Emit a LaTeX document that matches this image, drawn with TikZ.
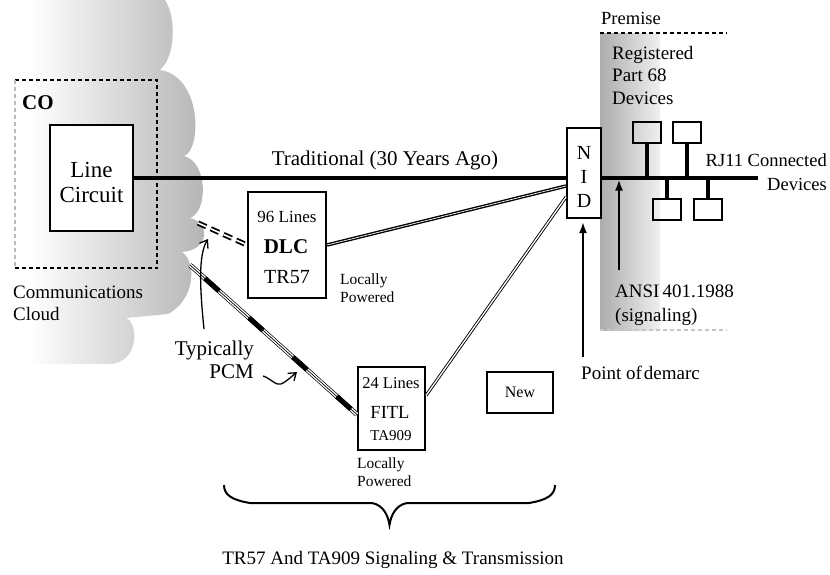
\documentclass[tikz,border=0pt]{standalone}
\usepackage{fontspec}
\setmainfont{Liberation Serif}
\usetikzlibrary{arrows.meta}
\newcommand{\pxfont}[2]{\fontsize{#1}{#2}\selectfont}
\tikzset{
  boxnode/.style={draw, line width=2pt, fill=white, inner sep=0pt},
  devbox/.style={draw, line width=2pt, minimum width=28pt, minimum height=21pt, inner sep=0pt},
  txt/.style={inner sep=0pt},
  wire/.style={line width=4pt},
  codash/.style={line width=1.6pt, dash pattern=on 4pt off 3pt},
  dlclink/.style={line width=1.4pt, double=white, double distance=0.7pt},
  fitllink/.style={line width=0.9pt, double=white, double distance=1.3pt},
  dashpair/.style={line width=1.8pt, double=white, double distance=1.6pt, dash pattern=on 9pt off 5pt},
  tiparrow/.style={line width=2pt, -{Latex[length=11pt,width=8pt]}},
  barbarrow/.style={line width=1.3pt, -{Straight Barb[length=7pt,width=10pt]}}
}

\begin{document}
\begin{tikzpicture}[x=1pt,y=-1pt]
  \useasboundingbox (0,0) rectangle (830,574);
  % communications cloud
  \shade[left color=white, right color=gray!60] (30,-5) -- (160,-5)
    .. controls (176,5) and (178,55) .. (160,70)
    .. controls (202,76) and (202,150) .. (184,156)
    .. controls (208,162) and (208,212) .. (190,218)
    .. controls (210,222) and (210,250) .. (182,252)
    .. controls (197,262) and (195,300) .. (168,314)
    -- (126,318) .. controls (138,322) and (140,360) .. (112,364)
    -- (30,364) -- cycle;
  % premise band
  \shade[left color=gray!65, right color=gray!12] (600,33) rectangle (660,330);
  \coordinate (premtl) at (600,33);
  \coordinate (premtr) at (727,33);
  \coordinate (prembl) at (600,330);
  \coordinate (prembr) at (727,330);
  \draw[line width=1.5pt, dash pattern=on 4pt off 3pt] (premtl) -- (premtr);
  \draw[gray!45, line width=1.2pt, dash pattern=on 4pt off 3pt] (prembl) -- (prembr);

  % CO
  \node[minimum width=142pt, minimum height=188pt, inner sep=0pt] (co) at (86,174) {};
  \draw[codash] (co.south west) -- (co.south east) -- (co.north east) -- (co.north west);
  \draw[codash, gray!55] (co.north west) -- (co.south west);
  \node[txt, anchor=west, font=\bfseries\pxfont{21}{24}] (colabel) at (22,103) {CO};
  \node[txt, anchor=west, align=left, font=\pxfont{19}{22}] (cloudlabel) at (13,303) {Communications\\Cloud};

  % boxes
  \node[boxnode, minimum width=83pt, minimum height=106pt] (lc) at (91.5,177.5) {};
  \node[txt, align=center, font=\pxfont{23}{25}] (lctext) at (91.5,182) {Line\\Circuit};
  \node[boxnode, minimum width=34pt, minimum height=90pt] (nid) at (584,173) {};
  \node[txt, align=center, font=\pxfont{20}{24}] (nidtext) at (584,176.5) {N\\I\\D};
  \node[boxnode, minimum width=78pt, minimum height=106pt] (dlc) at (287,245) {};
  \node[txt, font=\pxfont{17}{20}] (dlclines) at (287,217) {96 Lines};
  \node[txt, font=\bfseries\pxfont{21}{24}] (dlcname) at (286,247) {DLC};
  \node[txt, font=\pxfont{20}{23}] (dlcspec) at (287,277) {TR57};
  \node[txt, anchor=west, align=left, font=\pxfont{15.5}{18}] (lp1) at (340,288) {Locally\\Powered};
  \node[boxnode, minimum width=67pt, minimum height=83pt] (fitl) at (391.5,408.5) {};
  \node[txt, font=\pxfont{16.5}{19}] (fitllines) at (391,383) {24 Lines};
  \node[txt, font=\pxfont{18.5}{21}] (fitlname) at (390,412) {FITL};
  \node[txt, font=\pxfont{15}{18}] (fitlspec) at (391,436) {TA909};
  \node[txt, anchor=west, align=left, font=\pxfont{15.5}{18}] (lp2) at (357,472) {Locally\\Powered};
  \node[boxnode, minimum width=66pt, minimum height=41pt, font=\pxfont{16}{18}] (new) at (520,392.5) {New};

  % traditional line and premise bus
  \draw[wire] (lc.east) -- (lc.east -| nid.west);
  \node[txt, font=\pxfont{21}{24}] (trad) at (385,160) {Traditional (30 Years Ago)};
  \coordinate (busend) at (758,177.5);
  \draw[wire] (nid.east |- busend) -- (busend);
  \node[devbox] (dev1) at (647,132.5) {};
  \node[devbox] (dev2) at (687,132.5) {};
  \node[devbox] (dev3) at (667,209) {};
  \node[devbox] (dev4) at (707.5,209) {};
  \draw[wire] (dev1.south) -- (dev1.south |- busend);
  \draw[wire] (dev2.south) -- (dev2.south |- busend);
  \draw[wire] (dev3.north) -- (dev3.north |- busend);
  \draw[wire] (dev4.north) -- (dev4.north |- busend);

  % links to the NID
  \draw[dlclink] (dlc.east) -- ([yshift=-13pt]nid.west);
  \draw[fitllink] ([yshift=13pt]fitl.east) -- ([yshift=-24pt]nid.west);

  % PCM feeds from the cloud
  \coordinate (dlcfeed) at (198,223);
  \draw[dashpair] (dlcfeed) -- (dlc.west);
  \coordinate (fitlfeed) at (190,265);
  \coordinate (fitlend) at ([yshift=-6pt]fitl.west);
  \draw[line width=0.7pt, double=white, double distance=3.4pt] (fitlfeed) -- (fitlend);
  \draw[line width=0.7pt] (fitlfeed) -- (fitlend);
  \draw[line width=5pt, dash pattern=on 19pt off 40pt, dash phase=39pt] (fitlfeed) -- (fitlend);

  % typically PCM
  \node[txt, anchor=east, align=right, font=\pxfont{21}{23}] (pcm) at (254,360) {Typically\\PCM};
  \coordinate (typtail) at (204,329);
  \coordinate (typtip) at (208,239);
  \draw[barbarrow] (typtail) .. controls (200,290) and (198,255) .. (typtip);
  \coordinate (pcmtail) at (263,376);
  \coordinate (pcmtip) at (297,372);
  \draw[barbarrow] (pcmtail) .. controls (270,378) and (276,386) .. (281,384)
    .. controls (286,382) and (291,377) .. (pcmtip);

  % premise labels
  \node[txt, anchor=west, font=\pxfont{18.5}{21}] (prem) at (601,18) {Premise};
  \node[txt, anchor=west, align=left, font=\pxfont{19}{22.5}] (reg) at (612,75) {Registered\\Part 68\\Devices};
  \node[txt, anchor=east, align=right, font=\pxfont{18.5}{24}] (rj) at (827,172) {RJ11 Connected\\Devices};
  \node[txt, anchor=west, align=left, font=\pxfont{19}{24}] (ansi) at (615,305) {ANSI\kern3pt 401.1988\\(signaling)};
  \coordinate (ansitail) at (619,270);
  \draw[tiparrow] (ansitail) -- ([yshift=-2pt]ansitail |- busend);
  \node[txt, anchor=west, font=\pxfont{19}{22}] (demarc) at (581,373) {Point of\kern2pt demarc};
  \coordinate (demarctail) at (583,357);
  \draw[tiparrow, shorten >=3pt] (demarctail) -- (demarctail |- nid.south);

  % brace and caption
  \coordinate (brl) at (224,485);
  \coordinate (brr) at (555,485);
  \coordinate (brtip) at (389.5,525);
  \draw[line width=2pt] (brl) .. controls (224,495) and (232,500) .. (250,503) -- (372,503)
    .. controls (383,505) and (388,515) .. (brtip)
    .. controls (391,515) and (396,505) .. (407,503) -- (529,503)
    .. controls (547,500) and (555,495) .. (brr);
  \node[txt, font=\pxfont{19}{22}] (caption) at (393,560) {TR57 And TA909 Signaling \& Transmission};
\end{tikzpicture}
\end{document}
